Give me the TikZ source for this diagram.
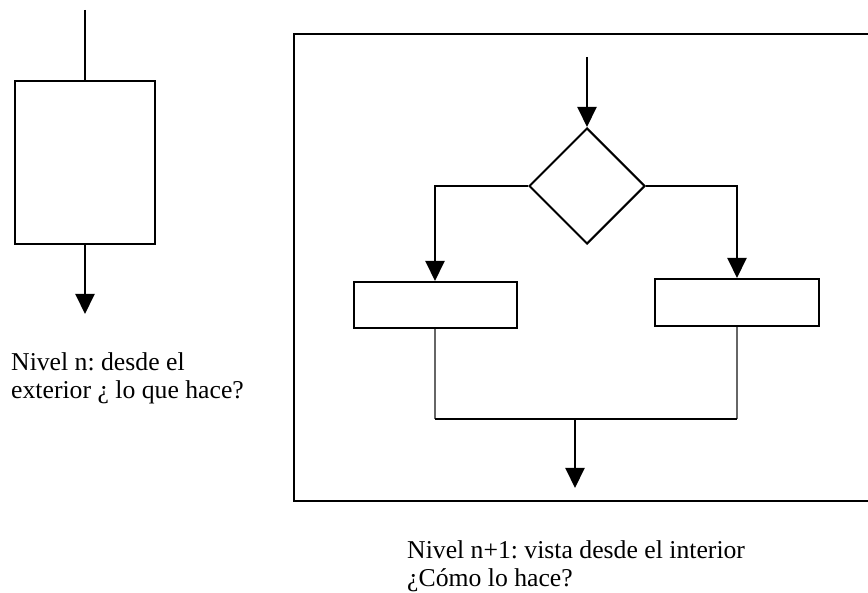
\documentclass[tikz,border=0pt]{standalone}
\usepackage{fontspec}
\setmainfont{Liberation Serif}
\usetikzlibrary{arrows.meta,shapes.geometric}
\frenchspacing
\begin{document}
\begin{tikzpicture}[x=1pt,y=-1pt,
  ln/.style={line width=2pt,black},
  thinln/.style={line width=1.4pt,gray!80!black},
  arr/.style={ln,-{Triangle[width=19pt,length=20pt]}},
  boxnode/.style={draw,ln,rectangle,inner sep=0pt,fill=white},
  dianode/.style={draw,ln,diamond,aspect=1,inner sep=0pt,minimum width=116pt,minimum height=116pt},
  lbl/.style={inner sep=0pt,align=left,anchor=north west,font=\fontsize{25.7}{28}\selectfont}
]
\useasboundingbox (0,0) rectangle (868,593);
% left part: level n
\coordinate (lin) at (85,10);
\node[boxnode,minimum width=140pt,minimum height=163pt] (lbox) at (85,162.5) {};
\coordinate (lout) at (85,314);
\draw[ln] (lin) -- (lbox.north);
\draw[arr] (lbox.south) -- (lout);
\node[lbl] (ltext) at (11,352) {Nivel n: desde el\\exterior ¿ lo que hace?};
% right part: frame
\draw[ln] (868,34) -- (294,34) -- (294,501) -- (868,501);
\coordinate (din) at (587,57);
\node[dianode] (dia) at (587,186) {};
\draw[arr] (din) -- (dia.north);
\node[boxnode,minimum width=163pt,minimum height=46pt] (lb) at (435,305) {};
\node[boxnode,minimum width=164pt,minimum height=47pt] (rb) at (737,302.5) {};
\draw[arr] (dia.west) -| (lb.north);
\draw[arr] (dia.east) -| (rb.north);
\coordinate (jl) at (435,419);
\coordinate (jr) at (737,419);
\coordinate (jm) at (575,419);
\coordinate (bout) at (575,488);
\draw[thinln] (lb.south) -- (jl);
\draw[thinln] (rb.south) -- (jr);
\draw[ln] (jl) -- (jr);
\draw[arr] (jm) -- (bout);
\node[lbl] (rtext) at (407,540) {Nivel n+1: vista desde el interior\\¿Cómo lo hace?};
\end{tikzpicture}
\end{document}
